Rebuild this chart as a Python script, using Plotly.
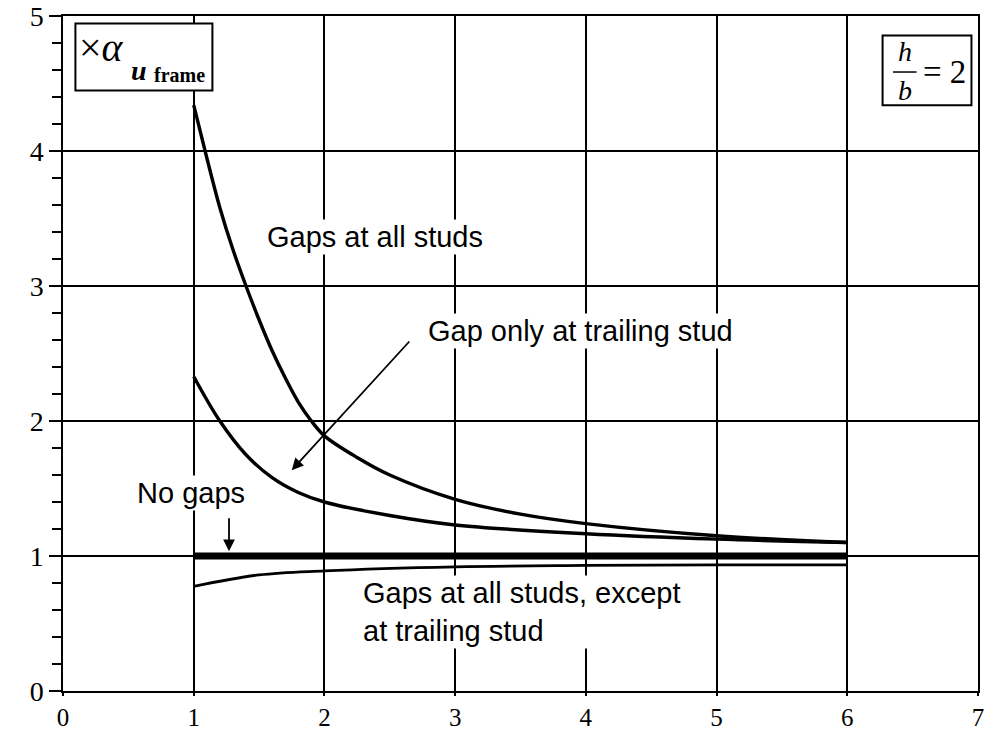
import plotly.graph_objects as go

# Curve: gaps at all studs
all_gaps_x = [1, 1.1, 1.2, 1.3, 1.4, 1.5, 1.6, 1.7, 1.8, 1.9, 2, 2.25, 2.5, 3, 3.5, 4, 5, 6]
all_gaps_y = [4.34, 3.95, 3.58, 3.27, 3.0, 2.75, 2.52, 2.32, 2.14, 2.0, 1.89, 1.73, 1.60, 1.42, 1.31, 1.24, 1.15, 1.10]

# Curve: gap only at trailing stud
trailing_x = [1, 1.2, 1.4, 1.6, 1.8, 2, 2.5, 3, 4, 5, 6]
trailing_y = [2.33, 2.0, 1.75, 1.58, 1.47, 1.40, 1.30, 1.23, 1.165, 1.125, 1.10]

# Curve: gaps at all studs except at trailing stud
except_x = [1, 1.5, 2, 3, 4, 5, 6]
except_y = [0.775, 0.86, 0.89, 0.92, 0.93, 0.935, 0.935]

# Reference: no gaps
nogap_x = [1, 6]
nogap_y = [1, 1]

x_ticks = [0, 1, 2, 3, 4, 5, 6, 7]
y_ticks = [0, 1, 2, 3, 4, 5]

SANS = "Liberation Sans"
SERIF = "Liberation Serif"

fig = go.Figure()
fig.add_trace(go.Scatter(x=all_gaps_x, y=all_gaps_y, mode="lines",
                         line=dict(color="black", width=3.4, shape="spline", smoothing=1.0)))
fig.add_trace(go.Scatter(x=trailing_x, y=trailing_y, mode="lines",
                         line=dict(color="black", width=3.4, shape="spline", smoothing=1.0)))
fig.add_trace(go.Scatter(x=except_x, y=except_y, mode="lines",
                         line=dict(color="black", width=2.8, shape="spline", smoothing=1.0)))
fig.add_trace(go.Scatter(x=nogap_x, y=nogap_y, mode="lines",
                         line=dict(color="black", width=7)))

# Boxes in the upper corners
fig.add_shape(type="rect", xref="x", yref="y", x0=0.095, x1=1.143, y0=4.449, y1=4.944,
              line=dict(color="black", width=2), fillcolor="white", layer="above")
fig.add_shape(type="rect", xref="x", yref="y", x0=6.27, x1=6.95, y0=4.338, y1=4.856,
              line=dict(color="black", width=2), fillcolor="white", layer="above")
fig.add_shape(type="line", xref="x", yref="y", x0=6.35, x1=6.53, y0=4.585, y1=4.585,
              line=dict(color="black", width=1.5), layer="above")

ann = []
# Multiplier label
ann.append(dict(x=0.295, y=4.765, text="×<i>α</i>", font=dict(family=SERIF, size=40, color="black")))
ann.append(dict(x=0.585, y=4.60, text="<b><i>u</i></b>", font=dict(family=SERIF, size=28, color="black")))
ann.append(dict(x=0.89, y=4.56, text="<b>frame</b>", font=dict(family=SERIF, size=20, color="black")))
# h / b = 2
ann.append(dict(x=6.44, y=4.735, text="<i>h</i>", font=dict(family=SERIF, size=28, color="black")))
ann.append(dict(x=6.44, y=4.445, text="<i>b</i>", font=dict(family=SERIF, size=28, color="black")))
ann.append(dict(x=6.745, y=4.585, text="= 2", font=dict(family=SERIF, size=33, color="black")))

# Curve labels
ann.append(dict(x=2.39, y=3.36, text="Gaps at all studs", bgcolor="white",
                font=dict(family=SANS, size=29, color="black")))
ann.append(dict(x=3.96, y=2.665, text="Gap only at trailing stud", bgcolor="white",
                font=dict(family=SANS, size=29, color="black")))
ann.append(dict(x=0.98, y=1.47, text="No gaps", bgcolor="white",
                font=dict(family=SANS, size=29, color="black")))
ann.append(dict(x=2.276, y=0.585, xanchor="left", align="left",
                text="Gaps at all studs, except<br>at trailing stud", bgcolor="white",
                font=dict(family=SANS, size=29, color="black")))

for a in ann:
    a.setdefault("xref", "x")
    a.setdefault("yref", "y")
    a.setdefault("showarrow", False)

# Arrows
ann.append(dict(x=1.27, y=1.035, ax=1.27, ay=1.29, xref="x", yref="y", axref="x", ayref="y",
                text="", showarrow=True, arrowhead=2, arrowsize=1.3, arrowwidth=1.8,
                arrowcolor="black"))
ann.append(dict(x=1.75, y=1.636, ax=2.66, ay=2.6, xref="x", yref="y", axref="x", ayref="y",
                text="", showarrow=True, arrowhead=2, arrowsize=1.3, arrowwidth=1.8,
                arrowcolor="black"))

axis_common = dict(showgrid=True, gridcolor="black", gridwidth=1.5, showline=True,
                   linecolor="black", linewidth=1.5, mirror=True, zeroline=False,
                   automargin=False, tickcolor="black", ticklabeloverflow="allow")

fig.update_layout(
    width=984, height=731,
    margin=dict(l=63, r=6, t=16, b=40),
    paper_bgcolor="white", plot_bgcolor="white",
    showlegend=False,
    annotations=ann,
    xaxis=dict(range=[0, 7], tickvals=x_ticks, ticks="outside", ticklen=3, tickwidth=1.5,
               tickfont=dict(family=SERIF, size=25, color="black"), **axis_common),
    yaxis=dict(range=[0, 5], tickvals=y_ticks, ticks="outside", ticklen=12, tickwidth=1.5,
               tickfont=dict(family=SERIF, size=28, color="black"),
               minor=dict(dtick=0.2, ticks="outside", ticklen=9, tickwidth=1.5,
                          tickcolor="black", showgrid=False),
               **axis_common),
)

fig.write_html("out.html")
